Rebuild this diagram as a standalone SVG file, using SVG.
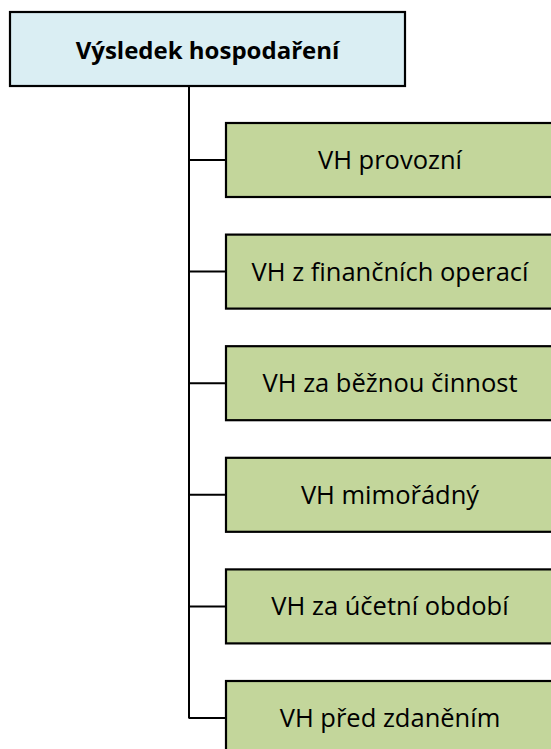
<svg xmlns="http://www.w3.org/2000/svg" width="551" height="749" viewBox="0 0 551 749">
<style>
.root rect{fill:#DAEEF3;stroke:#000;stroke-width:2.2}
.child rect{fill:#C3D69B;stroke:#000;stroke-width:2.2}
text{font-family:"Open Sans","Liberation Sans",sans-serif;fill:#000;text-anchor:middle}
.root text{font-weight:bold;font-size:24px}
.child text{font-size:25.5px}
.conn{fill:none;stroke:#000;stroke-width:2}
</style>
<rect width="551" height="749" fill="#fff"/>
<g id="connectors" class="conn">
<path d="M189 86V718.6"/>
<path d="M189 160H226"/>
<path d="M189 271.6H226"/>
<path d="M189 383.2H226"/>
<path d="M189 494.8H226"/>
<path d="M189 606.4H226"/>
<path d="M189 718H226"/>
</g>
<g id="root" class="root">
<rect x="10" y="12" width="395" height="74"/>
<text x="207.5" y="59">Výsledek hospodaření</text>
</g>
<g id="n1" class="child">
<rect x="226" y="123" width="328" height="74"/>
<text x="390" y="169">VH provozní</text>
</g>
<g id="n2" class="child">
<rect x="226" y="234.6" width="328" height="74"/>
<text x="390" y="280.6">VH z finančních operací</text>
</g>
<g id="n3" class="child">
<rect x="226" y="346.2" width="328" height="74"/>
<text x="390" y="392.2">VH za běžnou činnost</text>
</g>
<g id="n4" class="child">
<rect x="226" y="457.8" width="328" height="74"/>
<text x="390" y="503.8">VH mimořádný</text>
</g>
<g id="n5" class="child">
<rect x="226" y="569.4" width="328" height="74"/>
<text x="390" y="615.4">VH za účetní období</text>
</g>
<g id="n6" class="child">
<rect x="226" y="681" width="328" height="74"/>
<text x="390" y="727">VH před zdaněním</text>
</g>
</svg>
